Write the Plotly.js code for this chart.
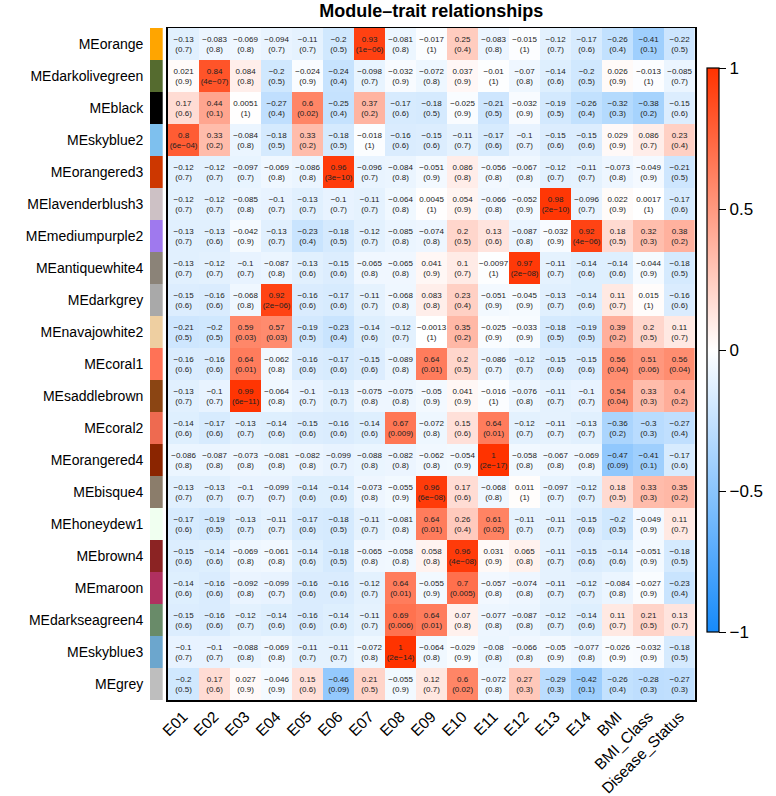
<!DOCTYPE html>
<html>
<head>
<meta charset="utf-8">
<script src="https://cdn.plot.ly/plotly-3.0.1.min.js"></script>
<style>html,body{margin:0;padding:0;background:#fff;}#chart{width:776px;height:796px;}</style>
</head>
<body>
<div id="chart"></div>
<script>
const traits = ["E01","E02","E03","E04","E05","E06","E07","E08","E09","E10","E11","E12","E13","E14","BMI","BMI_Class","Disease_Status"];
const modules = ["MEorange","MEdarkolivegreen","MEblack","MEskyblue2","MEorangered3","MElavenderblush3","MEmediumpurple2","MEantiquewhite4","MEdarkgrey","MEnavajowhite2","MEcoral1","MEsaddlebrown","MEcoral2","MEorangered4","MEbisque4","MEhoneydew1","MEbrown4","MEmaroon","MEdarkseagreen4","MEskyblue3","MEgrey"];
const moduleColors = ["#FFA500","#556B2F","#000000","#7EC0EE","#CD3700","#CDC1C5","#9F79EE","#8B8378","#A9A9A9","#EECFA1","#FF7256","#8B4513","#EE6A50","#8B2500","#8B7D6B","#F0FFF0","#8B2323","#B03060","#698B69","#6CA6CD","#BEBEBE"];

const corr = [
 [-0.13,-0.083,-0.069,-0.094,-0.11,-0.2,0.93,-0.081,-0.017,0.25,-0.083,-0.015,-0.12,-0.17,-0.26,-0.41,-0.22],
 [0.021,0.84,0.084,-0.2,-0.024,-0.24,-0.098,-0.032,-0.072,0.037,-0.01,-0.07,-0.14,-0.2,0.026,-0.013,-0.085],
 [0.17,0.44,0.0051,-0.27,0.6,-0.25,0.37,-0.17,-0.18,-0.025,-0.21,-0.032,-0.19,-0.26,-0.32,-0.38,-0.15],
 [0.8,0.33,-0.084,-0.18,0.33,-0.18,-0.018,-0.16,-0.15,-0.11,-0.17,-0.1,-0.15,-0.15,0.029,0.086,0.23],
 [-0.12,-0.12,-0.097,-0.069,-0.086,0.96,-0.096,-0.084,-0.051,0.086,-0.056,-0.067,-0.12,-0.11,-0.073,-0.049,-0.21],
 [-0.12,-0.12,-0.085,-0.1,-0.13,-0.1,-0.11,-0.064,0.0045,0.054,-0.066,-0.052,0.98,-0.096,0.022,0.0017,-0.17],
 [-0.13,-0.13,-0.042,-0.13,-0.23,-0.18,-0.12,-0.085,-0.074,0.2,0.13,-0.087,-0.032,0.92,0.18,0.32,0.38],
 [-0.13,-0.12,-0.1,-0.087,-0.13,-0.15,-0.065,-0.065,0.041,0.1,-0.0097,0.97,-0.11,-0.14,-0.14,-0.044,-0.18],
 [-0.15,-0.16,-0.068,0.92,-0.16,-0.17,-0.11,-0.068,0.083,0.23,-0.051,-0.045,-0.13,-0.14,0.11,0.015,-0.16],
 [-0.21,-0.2,0.59,0.57,-0.19,-0.23,-0.14,-0.12,-0.0013,0.35,-0.025,-0.033,-0.18,-0.19,0.39,0.2,0.11],
 [-0.16,-0.16,0.64,-0.062,-0.16,-0.17,-0.15,-0.089,0.64,0.2,-0.086,-0.12,-0.15,-0.15,0.56,0.51,0.56],
 [-0.13,-0.1,0.99,-0.064,-0.1,-0.13,-0.075,-0.075,-0.05,0.041,-0.016,-0.076,-0.11,-0.1,0.54,0.33,0.4],
 [-0.14,-0.17,-0.13,-0.14,-0.15,-0.16,-0.14,0.67,-0.072,0.15,0.64,-0.12,-0.11,-0.13,-0.36,-0.3,-0.27],
 [-0.086,-0.087,-0.073,-0.081,-0.082,-0.099,-0.088,-0.082,-0.062,-0.054,1,-0.058,-0.067,-0.069,-0.47,-0.41,-0.17],
 [-0.13,-0.13,-0.1,-0.099,-0.14,-0.14,-0.073,-0.055,0.96,0.17,-0.068,0.011,-0.097,-0.12,0.18,0.33,0.35],
 [-0.17,-0.19,-0.13,-0.11,-0.17,-0.18,-0.11,-0.081,0.64,0.26,0.61,-0.11,-0.11,-0.15,-0.2,-0.049,0.11],
 [-0.15,-0.14,-0.069,-0.061,-0.14,-0.18,-0.065,-0.058,0.058,0.96,0.031,0.065,-0.11,-0.15,-0.14,-0.051,-0.18],
 [-0.14,-0.16,-0.092,-0.099,-0.16,-0.16,-0.12,0.64,-0.055,0.7,-0.057,-0.074,-0.11,-0.12,-0.084,-0.027,-0.23],
 [-0.15,-0.16,-0.12,-0.14,-0.16,-0.14,-0.11,0.69,0.64,0.07,-0.077,-0.087,-0.12,-0.14,0.11,0.21,0.13],
 [-0.1,-0.1,-0.088,-0.069,-0.11,-0.11,-0.072,1,-0.064,-0.029,-0.08,-0.066,-0.05,-0.077,-0.026,-0.032,-0.18],
 [-0.2,0.17,0.027,-0.046,0.15,-0.46,0.21,-0.055,0.12,0.6,-0.072,0.27,-0.29,-0.42,-0.26,-0.28,-0.27]
];

const pvals = [
 ["0.7","0.8","0.8","0.7","0.7","0.5","1e-06","0.8","1","0.4","0.8","1","0.7","0.6","0.4","0.1","0.5"],
 ["0.9","4e-07","0.8","0.5","0.9","0.4","0.7","0.9","0.8","0.9","1","0.8","0.6","0.5","0.9","1","0.7"],
 ["0.6","0.1","1","0.4","0.02","0.4","0.2","0.6","0.5","0.9","0.5","0.9","0.5","0.4","0.3","0.2","0.6"],
 ["6e-04","0.2","0.8","0.5","0.2","0.5","1","0.6","0.6","0.7","0.6","0.7","0.6","0.6","0.9","0.7","0.4"],
 ["0.7","0.7","0.7","0.8","0.8","3e-10","0.7","0.8","0.9","0.8","0.8","0.8","0.7","0.7","0.8","0.9","0.5"],
 ["0.7","0.7","0.8","0.7","0.7","0.7","0.7","0.8","1","0.9","0.8","0.9","2e-10","0.7","0.9","1","0.6"],
 ["0.7","0.6","0.9","0.7","0.4","0.5","0.7","0.8","0.8","0.5","0.6","0.8","0.9","4e-06","0.5","0.3","0.2"],
 ["0.7","0.7","0.7","0.8","0.6","0.6","0.8","0.8","0.9","0.7","1","2e-08","0.7","0.6","0.6","0.9","0.5"],
 ["0.6","0.6","0.8","2e-06","0.6","0.6","0.7","0.8","0.8","0.4","0.9","0.9","0.7","0.6","0.7","1","0.6"],
 ["0.5","0.5","0.03","0.03","0.5","0.4","0.6","0.7","1","0.2","0.9","0.9","0.5","0.5","0.2","0.5","0.7"],
 ["0.6","0.6","0.01","0.8","0.6","0.6","0.6","0.8","0.01","0.5","0.7","0.7","0.6","0.6","0.04","0.06","0.04"],
 ["0.7","0.7","6e-11","0.8","0.7","0.7","0.8","0.8","0.9","0.9","1","0.8","0.7","0.7","0.04","0.3","0.2"],
 ["0.6","0.6","0.7","0.6","0.6","0.6","0.6","0.009","0.8","0.6","0.01","0.7","0.7","0.7","0.2","0.3","0.4"],
 ["0.8","0.8","0.8","0.8","0.8","0.7","0.8","0.8","0.8","0.9","2e-17","0.8","0.8","0.8","0.09","0.1","0.6"],
 ["0.7","0.7","0.7","0.7","0.6","0.6","0.8","0.9","6e-08","0.6","0.8","1","0.7","0.7","0.5","0.3","0.2"],
 ["0.6","0.5","0.7","0.7","0.6","0.5","0.7","0.8","0.01","0.4","0.02","0.7","0.7","0.6","0.5","0.9","0.7"],
 ["0.6","0.6","0.8","0.8","0.6","0.5","0.8","0.8","0.8","4e-08","0.9","0.8","0.7","0.6","0.6","0.9","0.5"],
 ["0.6","0.6","0.8","0.7","0.6","0.6","0.7","0.01","0.9","0.005","0.8","0.8","0.7","0.7","0.8","0.9","0.4"],
 ["0.6","0.6","0.7","0.6","0.6","0.6","0.7","0.006","0.01","0.8","0.8","0.8","0.7","0.6","0.7","0.5","0.7"],
 ["0.7","0.7","0.8","0.8","0.7","0.7","0.8","2e-14","0.8","0.9","0.8","0.8","0.9","0.8","0.9","0.9","0.5"],
 ["0.5","0.6","0.9","0.9","0.6","0.09","0.5","0.9","0.7","0.02","0.8","0.3","0.3","0.1","0.4","0.3","0.3"]
];

const fmt = s => String(s).replace(/-/g, "\u2212");
const cellText = corr.map((row, i) => row.map((v, j) => fmt(v) + "<br>(" + fmt(pvals[i][j]) + ")"));

const colorscale = [
  [0, "rgb(22,138,250)"],
  [0.5, "rgb(255,255,255)"],
  [1, "rgb(255,51,0)"]
];

// plot area: paper spans x 148..706 (558px)
const L = 148, R = 70, T = 28, B = 96, PW = 776 - L - R, PH = 796 - T - B;
const dom = px => (px - L) / PW;

const heat = {
  type: "heatmap",
  x: traits,
  y: modules,
  z: corr,
  zmin: -1, zmax: 1,
  colorscale: colorscale,
  text: cellText,
  texttemplate: "%{text}",
  textfont: {family: "Liberation Sans, Arial, sans-serif", size: 8, color: "#222"},
  hoverinfo: "x+y+z",
  xaxis: "x", yaxis: "y",
  colorbar: {
    x: dom(718), xanchor: "left", xref: "paper",
    y: (700 - 350) / PH, yanchor: "middle",
    len: (632 - 68) / PH, lenmode: "fraction",
    ypad: 0, xpad: 0,
    thickness: 12, thicknessmode: "pixels",
    outlinewidth: 1.2, outlinecolor: "#000",
    tickvals: [-1, -0.5, 0, 0.5, 1],
    ticktext: ["\u22121", "\u22120.5", "0", "0.5", "1"],
    ticks: "outside", ticklen: 7, tickcolor: "#000", tickwidth: 1,
    tickfont: {family: "Liberation Sans, Arial, sans-serif", size: 17, color: "#000"}
  }
};

const swatch = {
  type: "bar",
  orientation: "h",
  y: modules,
  x: modules.map(() => 1),
  marker: {color: moduleColors, line: {width: 0}},
  width: 1,
  xaxis: "x2", yaxis: "y",
  hoverinfo: "skip",
  showlegend: false
};

const layout = {
  width: 776, height: 796,
  margin: {l: L, r: R, t: T, b: B, pad: 0},
  paper_bgcolor: "#fff", plot_bgcolor: "#fff",
  font: {family: "Liberation Sans, Arial, sans-serif", color: "#000"},
  title: {
    text: "<b>Module\u2013trait relationships</b>",
    font: {size: 18, family: "Liberation Sans, Arial, sans-serif", color: "#000"},
    x: dom(437), xanchor: "center", xref: "paper",
    y: 0.986, yanchor: "middle", yref: "container"
  },
  xaxis: {
    domain: [dom(168), 1],
    anchor: "y",
    tickangle: -45,
    tickfont: {size: 15.5},
    showline: true, mirror: true, linecolor: "#000", linewidth: 1.5,
    showgrid: false, zeroline: false, ticks: "",
    fixedrange: true
  },
  xaxis2: {
    domain: [dom(150), dom(163)],
    anchor: "y",
    range: [0, 1],
    visible: false,
    fixedrange: true
  },
  yaxis: {
    anchor: "x",
    autorange: "reversed",
    tickfont: {size: 14},
    ticklabelstandoff: 20,
    showline: true, mirror: true, linecolor: "#000", linewidth: 1.5,
    showgrid: false, zeroline: false, ticks: "",
    fixedrange: true
  },
  bargap: 0,
  showlegend: false
};

Plotly.newPlot("chart", [swatch, heat], layout, {displayModeBar: false, staticPlot: true});
</script>
</body>
</html>
